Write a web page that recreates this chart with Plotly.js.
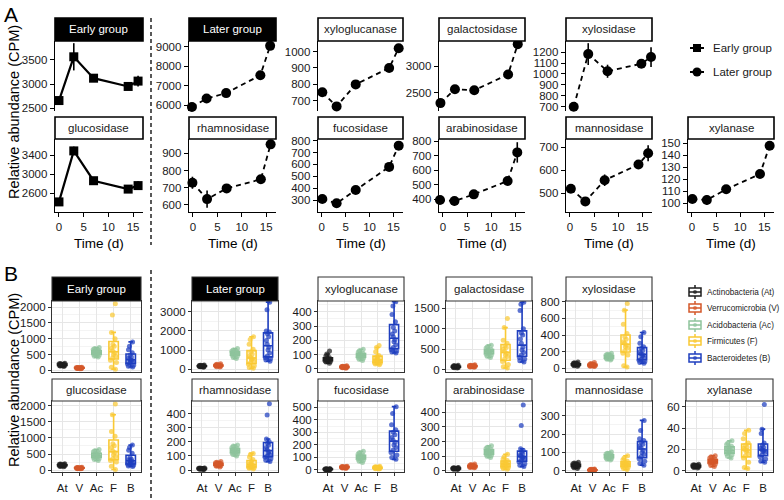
<!DOCTYPE html>
<html><head><meta charset="utf-8">
<script src="https://cdn.plot.ly/plotly-3.0.1.min.js"></script>
<style>html,body{margin:0;padding:0;background:#fff}#chart{width:784px;height:500px}</style>
</head><body><div id="chart"></div>
<script>
// ---------------- DATA ----------------
const days = [0, 3, 7, 14, 16];
const phyla = ['At', 'V', 'Ac', 'F', 'B'];
const phylumNames = ['Actinobacteria (At)', 'Verrucomicrobia (V)', 'Acidobacteria (Ac)', 'Firmicutes (F)', 'Bacteroidetes (B)'];
const groupNames = ['Early group', 'Later group'];

// Panel A: mean relative abundance (CPM) and error over time
const earlyGroup = [2660, 3560, 3120, 2950, 3060];
const earlyGroupErr = [80, 280, 50, 40, 110];
const laterGroup = [5910, 6340, 6620, 7540, 9050];
const laterGroupErr = [120, 130, 150, 130, 160];
const xyloglucanase = [752, 666, 800, 900, 1020];
const xyloglucanaseErr = [20, 15, 15, 15, 20];
const galactosidase = [2300, 2562, 2544, 2844, 3420];
const galactosidaseErr = [60, 50, 50, 60, 60];
const xylosidase = [700, 1182, 1025, 1094, 1155];
const xylosidaseErr = [20, 100, 60, 30, 90];
const glucosidase = [2413, 3489, 2860, 2683, 2757];
const glucosidaseErr = [70, 90, 40, 40, 90];
const rhamnosidase = [729, 634, 696, 749, 952];
const rhamnosidaseErr = [35, 50, 20, 15, 20];
const fucosidase = [308, 272, 384, 579, 758];
const fucosidaseErr = [15, 15, 20, 25, 30];
const arabinosidase = [395, 388, 434, 526, 722];
const arabinosidaseErr = [20, 30, 20, 15, 70];
const mannosidase = [520, 465, 557, 625, 674];
const mannosidaseErr = [10, 15, 25, 15, 35];
const xylanase = [103.6, 102.8, 111.7, 124.4, 148];
const xylanaseErr = [2, 4, 2, 2, 3];

// Panel B: per-sample CPM by phylum (At, V, Ac, F, B)
const bEarlyGroup = [
  [120,140,150,160,170,175,180,185,190,200,210,220,150,165,195,230],
  [55,60,65,70,72,75,78,80,82,85,88,90,95,100,70,80],
  [420,450,480,500,520,540,560,580,600,620,640,660,690,720,550,590],
  [2100,1750,1200,1000,820,760,700,620,560,500,450,400,320,250,100,40],
  [900,760,650,560,480,420,380,350,320,300,270,240,200,160,130,110]
];
const bLaterGroup = [
  [110,130,140,150,160,165,170,175,180,185,190,200,210,230,150,170],
  [120,140,160,170,180,190,200,205,210,220,230,240,260,290,180,200],
  [560,620,680,720,760,800,830,860,880,900,930,960,1000,1080,820,870],
  [1700,1550,1300,1050,900,800,700,620,560,500,430,350,260,180,100,50],
  [3500,3100,2000,1950,1850,1700,1500,1300,1150,1000,850,700,600,550,480,420]
];
const bXyloglucanase = [
  [40,48,52,56,60,62,65,68,70,72,75,80,90,105,125,64],
  [6,8,10,11,12,13,14,15,16,17,18,20,22,14,12,15],
  [60,68,75,80,85,88,92,95,98,100,105,110,118,128,138,96],
  [165,150,120,95,85,75,68,62,58,52,48,44,40,35,30,65],
  [470,440,380,330,290,265,245,225,205,190,170,150,135,125,118,112]
];
const bGalactosidase = [
  [40,50,55,60,65,68,70,72,75,78,80,85,90,100,110,70],
  [60,65,70,75,80,85,88,90,92,95,100,105,110,120,85,90],
  [300,330,360,380,400,420,430,440,450,460,480,500,530,560,600,450],
  [1250,1030,720,650,580,540,500,450,400,360,320,260,200,130,70,40],
  [1650,1600,1450,1000,900,850,750,650,550,480,420,360,300,260,220,190]
];
const bXylosidase = [
  [25,30,35,38,40,42,45,48,50,52,55,60,65,75,45,50],
  [20,25,28,30,33,35,38,40,42,45,48,52,58,70,36,40],
  [100,110,115,120,125,130,135,140,145,150,155,160,170,180,138,142],
  [780,700,530,420,380,350,320,300,280,260,240,210,180,160,30,15],
  [430,380,300,260,240,215,195,175,160,145,130,110,95,80,70,60]
];
const bGlucosidase = [
  [100,115,125,135,140,145,150,155,160,165,170,180,190,200,130,150],
  [40,45,50,55,58,60,62,65,68,70,72,75,80,85,55,65],
  [300,330,360,390,410,430,450,470,490,510,540,570,600,640,420,460],
  [2060,1720,1200,1050,820,760,700,600,550,480,420,350,300,250,120,20],
  [780,700,620,520,400,340,320,300,280,250,220,200,180,150,130,110]
];
const bRhamnosidase = [
  [3,5,6,7,8,9,10,10,11,12,13,14,15,8,9,11],
  [22,26,30,33,35,37,40,42,44,46,48,52,56,60,38,41],
  [100,110,115,120,125,130,135,140,145,150,155,160,170,178,132,142],
  [118,110,92,75,60,50,42,36,30,25,20,16,12,8,45,28],
  [470,390,220,200,190,175,160,145,130,120,110,100,90,80,70,60]
];
const bFucosidase = [
  [1,2,3,4,5,5,6,6,7,8,9,10,4,5,6,7],
  [12,15,17,18,20,21,22,23,24,25,26,28,30,19,22,24],
  [60,70,78,85,90,95,100,105,110,115,120,128,138,150,98,108],
  [8,10,12,14,15,16,18,19,20,21,22,24,26,30,17,20],
  [505,450,360,320,300,280,260,240,220,200,180,160,140,120,100,85]
];
const bArabinosidase = [
  [8,10,11,12,13,14,15,15,16,17,18,19,20,22,14,16],
  [20,22,24,26,27,28,30,31,32,34,36,38,42,46,29,33],
  [90,98,105,110,115,120,125,128,132,136,140,145,152,160,170,130],
  [112,95,80,70,62,56,50,45,40,35,30,25,20,15,10,48],
  [450,310,150,140,128,118,108,100,92,85,78,70,60,48,38,28]
];
const bMannosidase = [
  [12,16,20,22,25,27,28,30,32,34,36,38,42,46,26,30],
  [0,1,2,2,3,3,4,4,5,5,6,7,8,10,3,4],
  [58,62,66,70,72,75,78,80,82,85,88,92,96,102,76,80],
  [82,70,60,52,46,42,38,34,30,26,22,18,12,6,36,40],
  [275,220,175,165,155,145,135,125,112,100,90,78,65,52,40,30]
];
const bXylanase = [
  [2.5,3,3.2,3.5,3.8,4,4.2,4.4,4.6,4.8,5,5.3,5.6,6,4.1,4.5],
  [4,5,6,7,7.5,8,8.5,9,9.5,10,11,12,13,14,8.8,9.2],
  [12,13.5,15,16,17,18,18.5,19,20,21,22,23,24.5,26,28,19.5],
  [38,35,30,26,24,22,21,20,19,18,16,14,12,8,3,2],
  [62,39,35,26,24,22,21,20,19,18,17,15,13,11,9,8]
];

// ---------------- STYLE / LAYOUT ----------------
const W = 784, H = 500;
const FONT = 'Liberation Sans, Arial, Helvetica, sans-serif';
const phylumColors = ['#1e1e1e', '#d4582a', '#8fc49c', '#f9c935', '#1f3fbf'];
const px = x => x / W, py = y => 1 - y / H;

const colsA = [[55,143],[189,276],[318,403],[439,525],[566,652],[688,774]];
const rowsA = [{top:41,bot:111,strip:18},{top:139,bot:212,strip:117}];
const colsB = [[52,141],[192,278],[318,404],[446,532],[566,652],[686,773]];
const rowsB = [{top:301,bot:372,strip:277},{top:401,bot:472,strip:379}];

const panelsA = [
  {t:'Early group', y:earlyGroup, e:earlyGroupErr, c:0, r:0, g:0, rng:[2445,3885], tv:[2500,3000,3500], sh:0},
  {t:'Later group', y:laterGroup, e:laterGroupErr, c:1, r:0, g:1, rng:[5700,9300], tv:[6000,7000,8000,9000], sh:-0.2},
  {t:'xyloglucanase', y:xyloglucanase, e:xyloglucanaseErr, c:2, r:0, g:1, rng:[638,1064], tv:[700,800,900,1000], sh:0.1},
  {t:'galactosidase', y:galactosidase, e:galactosidaseErr, c:3, r:0, g:1, rng:[2150,3480], tv:[2500,3000], sh:-0.5},
  {t:'xylosidase', y:xylosidase, e:xylosidaseErr, c:4, r:0, g:1, rng:[661,1302], tv:[700,800,900,1000,1100,1200], sh:0.8},
  {t:'glucosidase', y:glucosidase, e:glucosidaseErr, c:0, r:1, g:0, rng:[2200,3740], tv:[2600,3000,3400], sh:0},
  {t:'rhamnosidase', y:rhamnosidase, e:rhamnosidaseErr, c:1, r:1, g:1, rng:[559,983], tv:[600,700,800,900], sh:-0.1},
  {t:'fucosidase', y:fucosidase, e:fucosidaseErr, c:2, r:1, g:1, rng:[199,814], tv:[300,400,500,600,700,800], sh:0.1},
  {t:'arabinosidase', y:arabinosidase, e:arabinosidaseErr, c:3, r:1, g:1, rng:[313,814], tv:[400,500,600,700,800], sh:-0.6},
  {t:'mannosidase', y:mannosidase, e:mannosidaseErr, c:4, r:1, g:1, rng:[419,736], tv:[500,600,700], sh:0.2},
  {t:'xylanase', y:xylanase, e:xylanaseErr, c:5, r:1, g:1, rng:[92.8,153.6], tv:[100,110,120,130,140,150], sh:0.1}
];
const panelsB = [
  {t:'Early group', d:bEarlyGroup, c:0, r:0, rng:[-50,2190], dt:500},
  {t:'Later group', d:bLaterGroup, c:1, r:0, rng:[-140,3560], dt:1000},
  {t:'xyloglucanase', d:bXyloglucanase, c:2, r:0, rng:[-21,475], dt:100},
  {t:'galactosidase', d:bGalactosidase, c:3, r:0, rng:[-56,1680], dt:500},
  {t:'xylosidase', d:bXylosidase, c:4, r:0, rng:[-45,810], dt:200},
  {t:'glucosidase', d:bGlucosidase, c:0, r:1, rng:[-60,2150], dt:500},
  {t:'rhamnosidase', d:bRhamnosidase, c:1, r:1, rng:[-14,490], dt:100},
  {t:'fucosidase', d:bFucosidase, c:2, r:1, rng:[-16,550], dt:100},
  {t:'arabinosidase', d:bArabinosidase, c:3, r:1, rng:[-9,477], dt:100},
  {t:'mannosidase', d:bMannosidase, c:4, r:1, rng:[-7,381], dt:100},
  {t:'xylanase', d:bXylanase, c:5, r:1, rng:[-1.2,65.4], dt:20}
];

const traces = [];
const shapes = [];
const annotations = [];
const layout = {
  width: W, height: H, margin: {l:0, r:0, t:0, b:0},
  paper_bgcolor: '#fff', plot_bgcolor: 'rgba(0,0,0,0)',
  showlegend: false, font: {family: FONT, size: 11.5, color: '#1a1a1a'},
  hovermode: false
};
let k = 0;
const sfx = n => (n === 1 ? '' : String(n));

function strip(x0, x1, yTop, yBot, text, dark, lineColor, lw) {
  shapes.push({type:'rect', xref:'paper', yref:'paper', x0:px(x0), x1:px(x1), y0:py(yBot), y1:py(yTop),
    fillcolor: dark ? '#000' : '#fff', line:{color: lineColor, width: lw}, layer:'above'});
  annotations.push({xref:'paper', yref:'paper', x:px((x0+x1)/2), y:py((yTop+yBot)/2), text:text,
    showarrow:false, xanchor:'center', yanchor:'middle', font:{family:FONT, size:11.5, color: dark ? '#fff' : '#1a1a1a'}});
}

// ---- Panel A ----
panelsA.forEach(p => {
  k++;
  const c = colsA[p.c], r = rowsA[p.r];
  const bottomRow = (p.r === 1);
  layout['xaxis' + sfx(k)] = {
    domain:[px(c[0]), px(c[1])], anchor:'y' + sfx(k), range:[-0.8, 17],
    visible: bottomRow, showgrid:false, zeroline:false,
    showline:true, linecolor:'#000', linewidth:1.3,
    ticks:'outside', ticklen:4, tickwidth:1, tickcolor:'#000',
    tickvals:[0,5,10,15], tickfont:{size:11.5, color:'#1a1a1a'}, ticklabelstandoff:0
  };
  layout['yaxis' + sfx(k)] = {
    domain:[py(r.bot), py(r.top)], anchor:'x' + sfx(k), range:p.rng,
    showgrid:false, zeroline:false, showline:true, linecolor:'#000', linewidth:1.3,
    ticks:'outside', ticklen:4, tickwidth:1, tickcolor:'#000',
    tickvals:p.tv, tickfont:{size:11.5, color:'#1a1a1a'}
  };
  traces.push({
    type:'scatter', mode:'lines+markers', xaxis:'x' + sfx(k), yaxis:'y' + sfx(k),
    x: days.map(d => d + p.sh), y: p.y, cliponaxis:false,
    error_y:{type:'data', array:p.e, visible:true, thickness:1.6, width:0, color:'#000'},
    line:{color:'#000', width: p.g === 0 ? 2.2 : 1.8, dash: p.g === 0 ? 'solid' : '5px,4px'},
    marker:{color:'#000', symbol: p.g === 0 ? 'square' : 'circle', size: p.g === 0 ? 9 : 10},
    showlegend:false, hoverinfo:'skip'
  });
  strip(c[0], c[1], r.strip, r.top, p.t, p.t === groupNames[0] || p.t === groupNames[1], '#000', 1.6);
  if (bottomRow) {
    annotations.push({xref:'paper', yref:'paper', x:px((c[0]+c[1])/2), y:py(243), text:'Time (d)', showarrow:false,
      xanchor:'center', yanchor:'middle', font:{family:FONT, size:13.5, color:'#000'}});
  }
});

// ---- Panel B ----
panelsB.forEach(p => {
  k++;
  const c = colsB[p.c], r = rowsB[p.r];
  const showX = (p.r === 1);
  layout['xaxis' + sfx(k)] = {
    domain:[px(c[0]), px(c[1])], anchor:'y' + sfx(k), type:'category',
    categoryorder:'array', categoryarray:phyla, range:[-0.6, 4.6],
    showgrid:true, gridcolor:'#e6e6e6', gridwidth:1, zeroline:false,
    showline:true, mirror:true, linecolor:'#333', linewidth:1,
    ticks: showX ? 'outside' : '', ticklen:3, tickcolor:'#333',
    showticklabels: showX, tickfont:{size:11.5, color:'#1a1a1a'}, ticklabelstandoff:2
  };
  layout['yaxis' + sfx(k)] = {
    domain:[py(r.bot), py(r.top)], anchor:'x' + sfx(k), range:p.rng,
    tickmode:'linear', tick0:0, dtick:p.dt,
    showgrid:true, gridcolor:'#e6e6e6', gridwidth:1, zeroline:false,
    minor:{tick0:0, dtick:p.dt / 2, showgrid:true, gridcolor:'#f0f0f0', gridwidth:0.7},
    showline:true, mirror:true, linecolor:'#333', linewidth:1,
    ticks:'outside', ticklen:3, tickcolor:'#333', tickfont:{size:11.5, color:'#1a1a1a'}
  };
  p.d.forEach((vals, j) => {
    traces.push({
      type:'box', xaxis:'x' + sfx(k), yaxis:'y' + sfx(k),
      x: vals.map(() => phyla[j]), y: vals, width:0.55,
      boxpoints:'all', jitter:0.8, pointpos:0,
      fillcolor:'#ffffff', line:{color:phylumColors[j], width:1.6},
      marker:{color:phylumColors[j], size:5, opacity:0.72},
      showlegend:false, hoverinfo:'skip'
    });
  });
  strip(c[0], c[1], r.strip, r.top, p.t, p.t === groupNames[0] || p.t === groupNames[1], '#333', 1.1);
});

// ---- Dashed separators ----
shapes.push({type:'line', xref:'paper', yref:'paper', x0:px(151), x1:px(151), y0:py(18), y1:py(245),
  line:{color:'#000', width:1.3, dash:'4px,3px'}});
shapes.push({type:'line', xref:'paper', yref:'paper', x0:px(151), x1:px(151), y0:py(270), y1:py(500),
  line:{color:'#000', width:1.3, dash:'4px,3px'}});

// ---- Axis titles & panel letters ----
annotations.push({xref:'paper', yref:'paper', x:px(14), y:py(112), text:'Relative abundance (CPM)', textangle:-90,
  showarrow:false, xanchor:'center', yanchor:'middle', font:{family:FONT, size:14.5, color:'#000'}});
annotations.push({xref:'paper', yref:'paper', x:px(14), y:py(380), text:'Relative abundance (CPM)', textangle:-90,
  showarrow:false, xanchor:'center', yanchor:'middle', font:{family:FONT, size:14.5, color:'#000'}});
annotations.push({xref:'paper', yref:'paper', x:px(2), y:py(14), text:'A', showarrow:false,
  xanchor:'left', yanchor:'middle', font:{family:FONT, size:21, color:'#000'}});
annotations.push({xref:'paper', yref:'paper', x:px(2), y:py(273), text:'B', showarrow:false,
  xanchor:'left', yanchor:'middle', font:{family:FONT, size:21, color:'#000'}});

// ---- Legend A (drawn) ----
[48, 72].forEach((yy, i) => {
  shapes.push({type:'line', xref:'paper', yref:'paper', x0:px(690), x1:px(704), y0:py(yy), y1:py(yy), line:{color:'#000', width:2}});
  if (i === 0) {
    shapes.push({type:'rect', xref:'paper', yref:'paper', x0:px(693), x1:px(701), y0:py(yy+4), y1:py(yy-4), fillcolor:'#000', line:{width:0}});
  } else {
    shapes.push({type:'circle', xref:'paper', yref:'paper', x0:px(692.5), x1:px(701.5), y0:py(yy+4.5), y1:py(yy-4.5), fillcolor:'#000', line:{width:0}});
  }
  annotations.push({xref:'paper', yref:'paper', x:px(711), y:py(yy), text:groupNames[i], showarrow:false,
    xanchor:'left', yanchor:'middle', font:{family:FONT, size:11.5, color:'#1a1a1a'}});
});

// ---- Legend B (drawn) ----
[292, 308, 325, 341, 358].forEach((yy, j) => {
  const col = phylumColors[j];
  shapes.push({type:'line', xref:'paper', yref:'paper', x0:px(695), x1:px(695), y0:py(yy+7), y1:py(yy-7), line:{color:col, width:1.5}});
  shapes.push({type:'rect', xref:'paper', yref:'paper', x0:px(689), x1:px(701), y0:py(yy+4), y1:py(yy-4), fillcolor:'#fff', line:{color:col, width:1.5}});
  shapes.push({type:'line', xref:'paper', yref:'paper', x0:px(689), x1:px(701), y0:py(yy), y1:py(yy), line:{color:col, width:1.5}});
  shapes.push({type:'circle', xref:'paper', yref:'paper', x0:px(693), x1:px(697), y0:py(yy+2), y1:py(yy-2), fillcolor:col, opacity:0.7, line:{width:0}});
  annotations.push({xref:'paper', yref:'paper', x:px(705), y:py(yy), text:phylumNames[j], showarrow:false,
    xanchor:'left', yanchor:'middle', font:{family:FONT, size:8.2, color:'#1a1a1a'}});
});

layout.shapes = shapes;
layout.annotations = annotations;
Plotly.newPlot('chart', traces, layout, {staticPlot:true, displayModeBar:false});
</script>
</body></html>
